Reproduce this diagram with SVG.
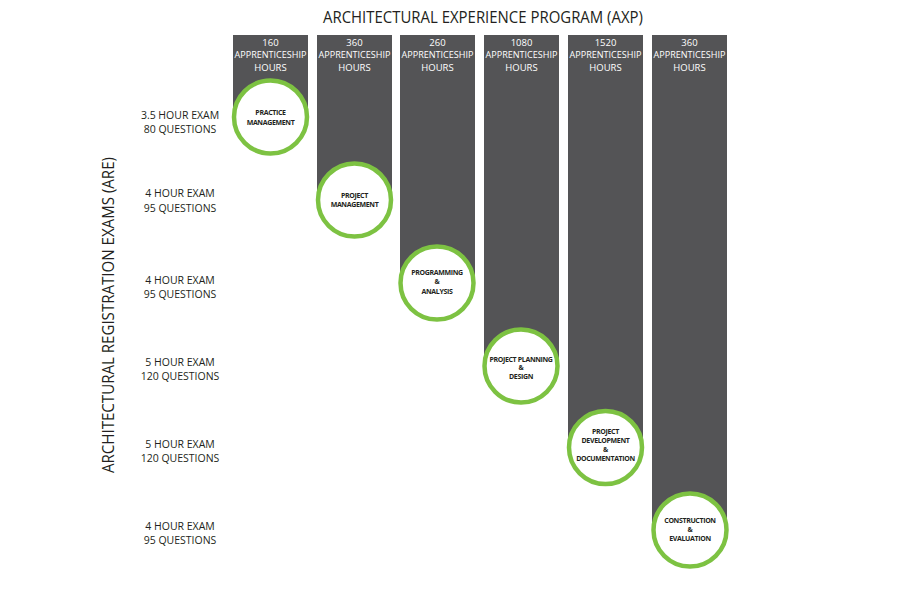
<svg xmlns="http://www.w3.org/2000/svg" width="900" height="600" viewBox="0 0 900 600">
<style>
.bar{fill:#545456}
.ring{fill:#fff;stroke:#7dc242;stroke-width:4.5}
.hd{font-family:"Open Sans","Liberation Sans",sans-serif;font-size:9.5px;fill:#fff;text-anchor:middle}
.ct{font-family:"Open Sans","Liberation Sans",sans-serif;font-size:7px;font-weight:bold;fill:#231f20;text-anchor:middle;letter-spacing:-0.35px}
.lb{font-family:"Open Sans","Liberation Sans",sans-serif;font-size:10.5px;fill:#231f20;text-anchor:middle}
.tt{font-family:"Open Sans","Liberation Sans",sans-serif;font-size:16px;fill:#231f20;text-anchor:middle}
</style>
<rect width="900" height="600" fill="#fff"/>
<text class="tt" x="483" y="23" textLength="320" lengthAdjust="spacingAndGlyphs">ARCHITECTURAL EXPERIENCE PROGRAM (AXP)</text>
<text class="tt" transform="translate(114,315) rotate(-90)" x="0" y="0" textLength="316" lengthAdjust="spacingAndGlyphs">ARCHITECTURAL REGISTRATION EXAMS (ARE)</text>
<g id="connectors"></g>
<g id="col1">
<rect class="bar" x="233" y="35" width="75" height="82"/>
<text class="hd" x="270.5" y="45.5">160</text>
<text class="hd" x="270.5" y="58" textLength="72" lengthAdjust="spacingAndGlyphs">APPRENTICESHIP</text>
<text class="hd" x="270.5" y="70.5">HOURS</text>
<circle class="ring" cx="270.5" cy="117" r="36.5"/>
<text class="ct" x="270.5" y="114.5">PRACTICE</text>
<text class="ct" x="270.5" y="124.5">MANAGEMENT</text>
<text class="lb" x="180" y="119">3.5 HOUR EXAM</text>
<text class="lb" x="180" y="133">80 QUESTIONS</text>
</g>
<g id="col2">
<rect class="bar" x="317" y="35" width="75" height="165"/>
<text class="hd" x="354.5" y="45.5">360</text>
<text class="hd" x="354.5" y="58" textLength="72" lengthAdjust="spacingAndGlyphs">APPRENTICESHIP</text>
<text class="hd" x="354.5" y="70.5">HOURS</text>
<circle class="ring" cx="354.5" cy="200" r="36.5"/>
<text class="ct" x="354.5" y="197.5">PROJECT</text>
<text class="ct" x="354.5" y="207">MANAGEMENT</text>
<text class="lb" x="180" y="197">4 HOUR EXAM</text>
<text class="lb" x="180" y="212">95 QUESTIONS</text>
</g>
<g id="col3">
<rect class="bar" x="400" y="35" width="75" height="248"/>
<text class="hd" x="437.5" y="45.5">260</text>
<text class="hd" x="437.5" y="58" textLength="72" lengthAdjust="spacingAndGlyphs">APPRENTICESHIP</text>
<text class="hd" x="437.5" y="70.5">HOURS</text>
<circle class="ring" cx="437" cy="283" r="36.5"/>
<text class="ct" x="437" y="275">PROGRAMMING</text>
<text class="ct" x="437" y="284">&amp;</text>
<text class="ct" x="437" y="293.5">ANALYSIS</text>
<text class="lb" x="180" y="284">4 HOUR EXAM</text>
<text class="lb" x="180" y="298">95 QUESTIONS</text>
</g>
<g id="col4">
<rect class="bar" x="484" y="35" width="75" height="331"/>
<text class="hd" x="521.5" y="45.5">1080</text>
<text class="hd" x="521.5" y="58" textLength="72" lengthAdjust="spacingAndGlyphs">APPRENTICESHIP</text>
<text class="hd" x="521.5" y="70.5">HOURS</text>
<circle class="ring" cx="521" cy="366" r="36.5"/>
<text class="ct" x="521" y="361.5">PROJECT PLANNING</text>
<text class="ct" x="521" y="370">&amp;</text>
<text class="ct" x="521" y="379">DESIGN</text>
<text class="lb" x="180" y="366">5 HOUR EXAM</text>
<text class="lb" x="180" y="380">120 QUESTIONS</text>
</g>
<g id="col5">
<rect class="bar" x="568" y="35" width="75" height="413"/>
<text class="hd" x="605.5" y="45.5">1520</text>
<text class="hd" x="605.5" y="58" textLength="72" lengthAdjust="spacingAndGlyphs">APPRENTICESHIP</text>
<text class="hd" x="605.5" y="70.5">HOURS</text>
<circle class="ring" cx="605.5" cy="447.5" r="36.5"/>
<text class="ct" x="605.5" y="434">PROJECT</text>
<text class="ct" x="605.5" y="442.5">DEVELOPMENT</text>
<text class="ct" x="605.5" y="451.5">&amp;</text>
<text class="ct" x="605.5" y="460.5">DOCUMENTATION</text>
<text class="lb" x="180" y="448">5 HOUR EXAM</text>
<text class="lb" x="180" y="462">120 QUESTIONS</text>
</g>
<g id="col6">
<rect class="bar" x="652" y="35" width="75" height="495"/>
<text class="hd" x="689.5" y="45.5">360</text>
<text class="hd" x="689.5" y="58" textLength="72" lengthAdjust="spacingAndGlyphs">APPRENTICESHIP</text>
<text class="hd" x="689.5" y="70.5">HOURS</text>
<circle class="ring" cx="690" cy="530" r="36.5"/>
<text class="ct" x="690" y="523">CONSTRUCTION</text>
<text class="ct" x="690" y="532">&amp;</text>
<text class="ct" x="690" y="541">EVALUATION</text>
<text class="lb" x="180" y="530">4 HOUR EXAM</text>
<text class="lb" x="180" y="544">95 QUESTIONS</text>
</g>
</svg>
